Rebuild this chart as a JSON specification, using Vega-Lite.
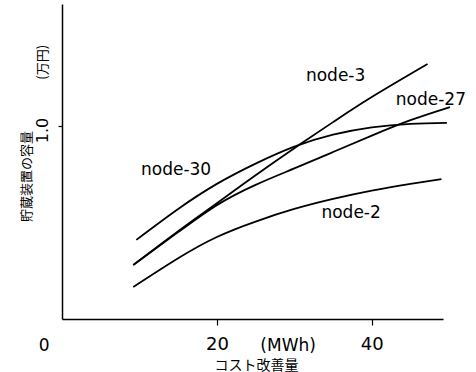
{
  "$schema": "https://vega.github.io/schema/vega-lite/v6.json",
  "autosize": "none",
  "width": 381,
  "height": 315,
  "padding": {"left": 62, "top": 4, "right": 33, "bottom": 53},
  "background": "white",
  "config": {"view": {"stroke": null}, "font": "DejaVu Sans"},
  "datasets": {
    "curves": [
      {"node": "node-30", "x": 9.6, "y": 0.41},
      {"node": "node-30", "x": 15, "y": 0.57},
      {"node": "node-30", "x": 20, "y": 0.70},
      {"node": "node-30", "x": 25, "y": 0.805},
      {"node": "node-30", "x": 30, "y": 0.893},
      {"node": "node-30", "x": 35, "y": 0.955},
      {"node": "node-30", "x": 40, "y": 0.993},
      {"node": "node-30", "x": 45, "y": 1.011},
      {"node": "node-30", "x": 49.7, "y": 1.016},
      {"node": "node-3", "x": 9.2, "y": 0.28},
      {"node": "node-3", "x": 15, "y": 0.455},
      {"node": "node-3", "x": 20, "y": 0.60},
      {"node": "node-3", "x": 25, "y": 0.745},
      {"node": "node-3", "x": 30, "y": 0.885},
      {"node": "node-3", "x": 35, "y": 1.02},
      {"node": "node-3", "x": 40, "y": 1.15},
      {"node": "node-3", "x": 47.2, "y": 1.321},
      {"node": "node-27", "x": 9.2, "y": 0.28},
      {"node": "node-27", "x": 15, "y": 0.45},
      {"node": "node-27", "x": 20, "y": 0.59},
      {"node": "node-27", "x": 25, "y": 0.695},
      {"node": "node-27", "x": 30, "y": 0.78},
      {"node": "node-27", "x": 35, "y": 0.865},
      {"node": "node-27", "x": 40, "y": 0.95},
      {"node": "node-27", "x": 45, "y": 1.03},
      {"node": "node-27", "x": 50.1, "y": 1.098},
      {"node": "node-2", "x": 9.2, "y": 0.166},
      {"node": "node-2", "x": 15, "y": 0.315},
      {"node": "node-2", "x": 20, "y": 0.425},
      {"node": "node-2", "x": 25, "y": 0.505},
      {"node": "node-2", "x": 30, "y": 0.57},
      {"node": "node-2", "x": 35, "y": 0.622},
      {"node": "node-2", "x": 40, "y": 0.665},
      {"node": "node-2", "x": 45, "y": 0.70},
      {"node": "node-2", "x": 49, "y": 0.725}
    ],
    "labels": [
      {"label": "node-3", "x": 31.5, "y": 1.259},
      {"label": "node-27", "x": 43.1, "y": 1.135},
      {"label": "node-30", "x": 10.2, "y": 0.772},
      {"label": "node-2", "x": 33.5, "y": 0.549}
    ],
    "extra": [
      {"label": "0", "x": -2.3, "y": -0.14},
      {"label": "(MWh)", "x": 29.2, "y": -0.14}
    ],
    "unit": [
      {"label": "(万円)", "x": -2.5, "y": 1.33}
    ]
  },
  "layer": [
    {
      "data": {"name": "curves"},
      "mark": {"type": "line", "interpolate": "natural", "color": "black", "strokeWidth": 1.8},
      "encoding": {
        "x": {
          "field": "x", "type": "quantitative",
          "scale": {"domain": [0, 49.2], "nice": false, "zero": false},
          "axis": {
            "values": [20, 40], "grid": false, "title": "コスト改善量",
            "domainColor": "black", "domainWidth": 1.5, "tickColor": "black", "tickWidth": 1.2, "tickSize": 6,
            "labelFontSize": 18, "labelColor": "black", "labelPadding": 10, "labelFont": "DejaVu Sans",
            "titleFontSize": 14, "titleFontWeight": "normal", "titleColor": "#000000", "titlePadding": 5, "titleFont": "Noto Sans CJK JP", "titleX": 194
          }
        },
        "y": {
          "field": "y", "type": "quantitative",
          "scale": {"domain": [0, 1.632], "nice": false, "zero": false},
          "axis": {
            "values": [1], "format": ".1f", "grid": false, "title": "貯蔵装置の容量",
            "domainColor": "black", "domainWidth": 1.5, "tickColor": "black", "tickWidth": 1.2, "tickSize": 4,
            "labelFontSize": 16, "labelColor": "black", "labelAngle": -90, "labelAlign": "center", "labelBaseline": "bottom", "labelPadding": 8, "labelOffset": 4,
            "titleFontSize": 13, "titleFontWeight": "normal", "titleColor": "#000000", "titleFont": "Noto Sans CJK JP", "titleY": 172, "titleX": -36, "titleBaseline": "middle"
          }
        },
        "detail": {"field": "node", "type": "nominal"}
      }
    },
    {
      "data": {"name": "labels"},
      "mark": {"type": "text", "align": "left", "baseline": "middle", "fontSize": 17, "color": "black", "font": "DejaVu Sans"},
      "encoding": {
        "x": {"field": "x", "type": "quantitative"},
        "y": {"field": "y", "type": "quantitative"},
        "text": {"field": "label"}
      }
    },
    {
      "data": {"name": "extra"},
      "mark": {"type": "text", "align": "center", "baseline": "middle", "fontSize": 17, "color": "black", "font": "DejaVu Sans"},
      "encoding": {
        "x": {"field": "x", "type": "quantitative"},
        "y": {"field": "y", "type": "quantitative"},
        "text": {"field": "label"}
      }
    },
    {
      "data": {"name": "unit"},
      "mark": {"type": "text", "align": "center", "baseline": "middle", "angle": 270, "fontSize": 13, "color": "black", "font": "Noto Sans CJK JP"},
      "encoding": {
        "x": {"field": "x", "type": "quantitative"},
        "y": {"field": "y", "type": "quantitative"},
        "text": {"field": "label"}
      }
    }
  ]
}
